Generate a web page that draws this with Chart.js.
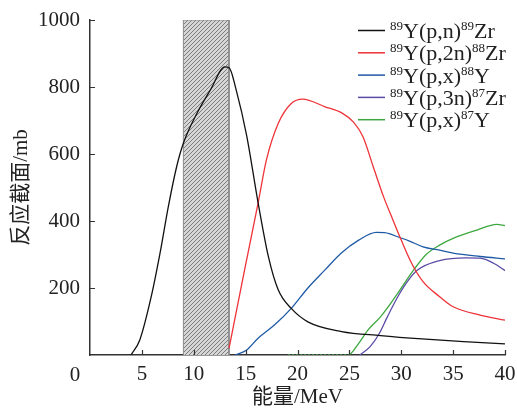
<!DOCTYPE html>
<html>
<head>
<meta charset="utf-8">
<script src="https://cdn.jsdelivr.net/npm/chart.js@4"></script>
<style>
  html, body { margin: 0; padding: 0; background: #fff; }
</style>
</head>
<body>
<canvas id="canvasOne" width="517" height="410"></canvas>
<script>
// energies (MeV) and cross sections (mb)
var pnEnergy = [3.95, 4.8, 5.9, 6.75, 7.55, 8.35, 9.0, 10.3, 11.6, 13.0, 13.4, 14.1, 15.1, 16.2, 17.2, 18.15, 19.4, 21.0, 24.25, 28, 32, 36, 40];
var pnXS     = [0, 45, 174, 304, 443, 562, 632, 721, 791, 860, 858, 790, 655, 455, 293, 194, 139, 99, 70, 58, 48, 40, 33];

var p2nEnergy = [13.4, 14.9, 16.2, 17.0, 18.15, 19.4, 20.5, 22.65, 24.3, 25.4, 26.3, 27.3, 28.3, 29.2, 30.0, 31.0, 32.1, 33.7, 35.0, 37.6, 40];
var p2nXS     = [20, 254, 453, 582, 692, 751, 764, 741, 722, 695, 652, 562, 472, 403, 343, 274, 219, 174, 144, 119, 104];

var px88Energy = [14.0, 15.1, 16.2, 17.8, 19.4, 21.0, 22.65, 24.2, 25.9, 27.6, 28.4, 29.9, 30.8, 32.1, 33.7, 35.0, 37.6, 40];
var px88XS     = [0, 15, 50, 90, 139, 200, 254, 304, 343, 366, 365, 350, 340, 323, 313, 304, 294, 287];

var p3nEnergy = [26.0, 27.0, 27.9, 28.6, 29.6, 30.5, 31.5, 33.7, 36.3, 37.6, 38.9, 40];
var p3nXS     = [0, 25, 65, 110, 170, 215, 252, 282, 290, 289, 274, 252];

var px87Energy = [19.1, 24.9, 25.9, 26.8, 28.0, 29.3, 31.2, 32.4, 33.7, 35.0, 37.3, 39.2, 40];
var px87XS     = [0, 0, 35, 75, 114, 168, 254, 300, 328, 348, 373, 390, 386];

var seriesLabels = ['^89Y(p,n)^89Zr', '^89Y(p,2n)^88Zr', '^89Y(p,x)^88Y', '^89Y(p,3n)^87Zr', '^89Y(p,x)^87Y'];
var seriesColors = ['#111111', '#ee3338', '#1f5aa6', '#5b4ba6', '#3da83f'];

var shadeRange = [9, 13.4];   // hatched energy window
var xTicks = [0, 5, 10, 15, 20, 25, 30, 35, 40];
var yTicks = [0, 200, 400, 600, 800, 1000];

var serif = "'Liberation Serif', 'Noto Sans CJK SC', serif";
var textColor = '#222';
var axisColor = '#333';

function pairs(xs, ys) {
    return xs.map(function(e, i) { return {x: e, y: ys[i]}; });
}

function hatch() {
    var c = document.createElement('canvas');
    c.width = 4; c.height = 4;
    var g = c.getContext('2d');
    g.fillStyle = '#d6d6d6';
    g.fillRect(0, 0, 4, 4);
    g.strokeStyle = '#7c7c7c';
    g.lineWidth = 1;
    g.beginPath();
    g.moveTo(0, 4); g.lineTo(4, 0);
    g.moveTo(-1, 1); g.lineTo(1, -1);
    g.moveTo(3, 5); g.lineTo(5, 3);
    g.stroke();
    return g.createPattern(c, 'repeat');
}

var allSeries = [
    [pnEnergy, pnXS], [p2nEnergy, p2nXS], [px88Energy, px88XS], [p3nEnergy, p3nXS], [px87Energy, px87XS]
];

var datasets = allSeries.map(function(s, i) {
    return {
        label: seriesLabels[i],
        data: pairs(s[0], s[1]),
        borderColor: seriesColors[i],
        borderWidth: 1.3,
        pointRadius: 0,
        cubicInterpolationMode: 'monotone',
        fill: false,
        segment: {
            borderDash: function(ctx) {
                return (ctx.p0.parsed.y === 0 && ctx.p1.parsed.y === 0) ? [2, 2] : undefined;
            }
        }
    };
});

// hatched window, last so it is drawn underneath
datasets.push({
    label: '',
    data: pairs([shadeRange[0], shadeRange[0], shadeRange[1], shadeRange[1]], [0, 1000, 1000, 0]),
    borderColor: '#8a8a8a',
    borderWidth: 1,
    backgroundColor: hatch(),
    pointRadius: 0,
    tension: 0,
    fill: 'origin'
});

var innerTicks = {
    id: 'innerTicks',
    afterDraw: function(chart) {
        var ctx = chart.ctx, xs = chart.scales.x, ys = chart.scales.y;
        ctx.save();
        ctx.strokeStyle = axisColor;
        ctx.lineWidth = 1.2;
        ctx.beginPath();
        xTicks.forEach(function(v) {
            if (v === 0) return;
            var px = Math.round(xs.getPixelForValue(v)) + 0.5;
            ctx.moveTo(px, ys.bottom);
            ctx.lineTo(px, ys.bottom - 5);
        });
        yTicks.forEach(function(v) {
            if (v === 0) return;
            var py = Math.round(ys.getPixelForValue(v)) + 0.5;
            ctx.moveTo(xs.left, py);
            ctx.lineTo(xs.left + 5, py);
        });
        ctx.stroke();
        ctx.fillStyle = textColor;
        ctx.font = '21px ' + serif;
        ctx.textAlign = 'center';
        ctx.textBaseline = 'middle';
        ctx.fillText('0', xs.left - 15, ys.bottom + 20);
        ctx.restore();
    }
};

var supLegend = {
    id: 'supLegend',
    afterDraw: function(chart) {
        var ctx = chart.ctx, area = chart.chartArea;
        var lx = area.right - 147;
        ctx.save();
        chart.data.datasets.forEach(function(ds, i) {
            if (!ds.label) return;
            var ly = area.top + 10.5 + i * 22.3;
            ctx.strokeStyle = ds.borderColor;
            ctx.lineWidth = 1.5;
            ctx.beginPath();
            ctx.moveTo(lx, ly);
            ctx.lineTo(lx + 27, ly);
            ctx.stroke();
            var tx = lx + 32, base = ly + 7.5;
            ctx.fillStyle = textColor;
            ctx.textAlign = 'left';
            ctx.textBaseline = 'alphabetic';
            ds.label.split(/(\^\d+)/).forEach(function(part) {
                if (!part) return;
                if (part[0] === '^') {
                    ctx.font = '13px ' + serif;
                    ctx.fillText(part.slice(1), tx, base - 8);
                    tx += ctx.measureText(part.slice(1)).width;
                } else {
                    ctx.font = '22px ' + serif;
                    ctx.fillText(part, tx, base);
                    tx += ctx.measureText(part).width;
                }
            });
        });
        ctx.restore();
    }
};

var ctx = document.getElementById('canvasOne').getContext('2d');
var config = {
    type: 'line',
    data: { datasets: datasets },
    options: {
        responsive: false,
        animation: false,
        layout: { padding: { top: 20, right: 12, left: 0, bottom: 0 } },
        plugins: { legend: { display: false }, tooltip: { enabled: false } },
        scales: {
            x: {
                type: 'linear',
                min: 0, max: 40,
                afterFit: function(s) { s.height = 55; s.paddingLeft = 0; s.paddingRight = 0; },
                afterBuildTicks: function(s) { s.ticks = xTicks.map(function(v) { return {value: v}; }); },
                ticks: {
                    color: textColor,
                    font: { family: serif, size: 21 },
                    padding: 7,
                    maxRotation: 0,
                    callback: function(v) { return v === 0 ? '' : v; }
                },
                grid: { drawOnChartArea: false, drawTicks: false },
                border: { display: true, color: axisColor, width: 1.5 },
                title: {
                    display: true, text: '能量/MeV', color: textColor,
                    font: { family: serif, size: 21 },
                    padding: { top: 0, bottom: 0 }
                }
            },
            y: {
                min: 0, max: 1000,
                afterFit: function(s) { s.width = 90; s.paddingTop = 0; s.paddingBottom = 0; },
                afterBuildTicks: function(s) { s.ticks = yTicks.map(function(v) { return {value: v}; }); },
                ticks: {
                    color: textColor,
                    font: { family: serif, size: 21 },
                    padding: 10,
                    callback: function(v) { return v === 0 ? '' : v; }
                },
                grid: { drawOnChartArea: false, drawTicks: false },
                border: { display: true, color: axisColor, width: 1.5 },
                title: {
                    display: true, text: '反应截面/mb', color: textColor,
                    font: { family: serif, size: 21 },
                    padding: { top: 9, bottom: 0 }
                }
            }
        }
    },
    plugins: [innerTicks, supLegend]
};

var chart = new Chart(ctx, config);
</script>
</body>
</html>
